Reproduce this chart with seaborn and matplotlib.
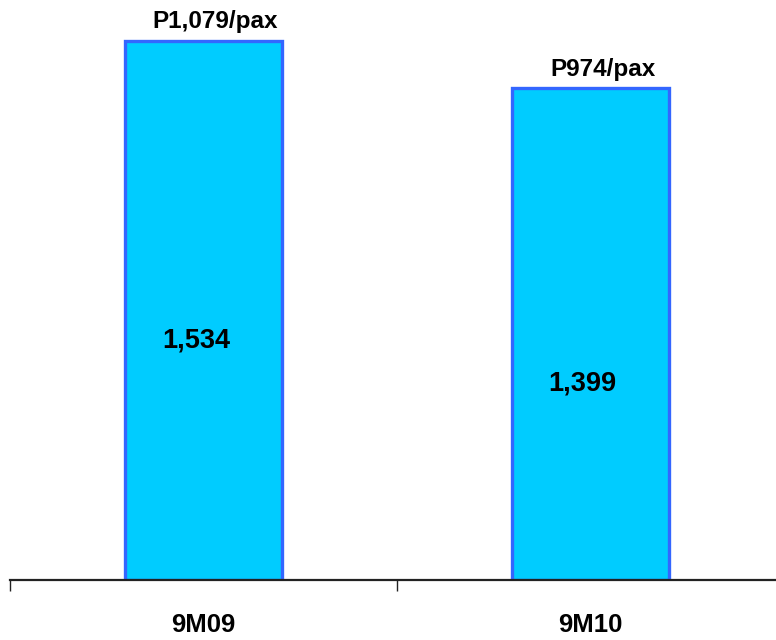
import pandas as pd
import seaborn as sns
import matplotlib.pyplot as plt

periods = ['9M09', '9M10']
values = [1534, 1399]
value_labels = ['1,534', '1,399']
per_pax = ['P1,079/pax', 'P974/pax']
label_frac = [0.445, 0.40]   # where the value text sits inside each bar

df = pd.DataFrame({'period': periods, 'value': values})

sns.set_style('white')
fonts = ['Liberation Sans', 'DejaVu Sans']
plt.rcParams['font.family'] = fonts

fig = plt.figure(figsize=(7.76, 6.4), dpi=100)
ax = fig.add_axes([10 / 776, 60 / 640, 774 / 776, 580 / 640])

sns.barplot(data=df, x='period', y='value', color='#00CCFF', saturation=1,
            width=0.405, edgecolor='#3366FF', linewidth=2.4, ax=ax)

ax.set_xlim(-0.5, 1.5)
ax.set_ylim(0, 1534 * 580 / 539)

for i, v in enumerate(values):
    ax.text(i - 0.02, v * label_frac[i], value_labels[i], ha='center', va='center',
            fontsize=19.5, fontweight='bold', color='black')
    ax.annotate(per_pax[i], (i, v), xytext=(12, 19), textcoords='offset pixels',
                ha='center', va='center', fontsize=17.5, fontweight='bold',
                color='black')

for s in ['top', 'right', 'left']:
    ax.spines[s].set_visible(False)
ax.spines['bottom'].set_color('#222222')
ax.spines['bottom'].set_linewidth(1.6)
ax.set_yticks([])
ax.set_xlabel('')
ax.set_ylabel('')

ax.set_xticks([-0.5, 0.5, 1.5], minor=True)
ax.tick_params(axis='x', which='minor', length=8, width=1.0, color='#222222',
               direction='out', bottom=True)
ax.tick_params(axis='x', which='major', length=0, pad=24, labelcolor='black')
for lbl in ax.get_xticklabels():
    lbl.set_fontsize(18.5)
    lbl.set_fontweight('bold')

fig.savefig('out.png', dpi=100)
